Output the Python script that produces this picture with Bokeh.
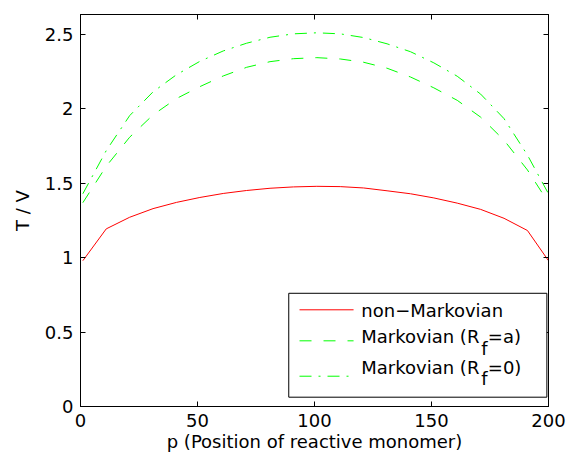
from bokeh.plotting import figure
from bokeh.models import (LinearAxis, FixedTicker, BoxAnnotation, Label, Arrow, Range1d)
from bokeh.embed import file_html
from bokeh.resources import INLINE

# ---- data ----
p_vals = [1, 11, 21, 31, 41, 51, 61, 71, 81, 91, 101, 111, 121, 131, 141, 151, 161, 171, 181, 191, 200]
non_markov = [0.98, 1.194, 1.272, 1.330, 1.372, 1.405, 1.432, 1.452, 1.467, 1.476, 1.480,
              1.478, 1.469, 1.450, 1.430, 1.402, 1.367, 1.325, 1.265, 1.183, 0.98]
markov_a = [1.37, 1.615, 1.81, 1.96, 2.07, 2.15, 2.222, 2.28, 2.318, 2.338, 2.345,
            2.336, 2.314, 2.274, 2.215, 2.142, 2.058, 1.945, 1.79, 1.59, 1.37]
markov_0 = [1.43, 1.72, 1.955, 2.115, 2.23, 2.32, 2.39, 2.442, 2.482, 2.505, 2.512,
            2.505, 2.480, 2.438, 2.385, 2.31, 2.22, 2.10, 1.935, 1.69, 1.43]

x_ticks = [0, 50, 100, 150, 200]
y_ticks = [0, 0.5, 1, 1.5, 2, 2.5]
y_tick_labels = ["0", "0.5", "1", "1.5", "2", "2.5"]

legend_labels = ["non\u2212Markovian", "Markovian (R", "Markovian (R"]
legend_subs = ["", "f", "f"]
legend_tails = ["", "=a)", "=0)"]

FONT = "DejaVu Sans"
FS = "18px"

p = figure(width=570, height=461, x_range=Range1d(0, 200), y_range=Range1d(0, 2.635),
           output_backend="svg", toolbar_location=None,
           min_border_left=80, min_border_right=22, min_border_top=14, min_border_bottom=55,
           x_axis_label="p (Position of reactive monomer)", y_axis_label="T / V")
p.xgrid.visible = False
p.ygrid.visible = False
p.outline_line_color = "black"
p.outline_line_width = 1
p.background_fill_color = "white"
p.border_fill_color = "white"

bottom_ax = p.below[0]
left_ax = p.left[0]

# extra axes for MATLAB-style box ticks
top_ax = LinearAxis()
right_ax = LinearAxis()
p.add_layout(top_ax, "above")
p.add_layout(right_ax, "right")

for ax in [bottom_ax, top_ax]:
    ax.ticker = FixedTicker(ticks=x_ticks)
for ax in [left_ax, right_ax]:
    ax.ticker = FixedTicker(ticks=y_ticks)
left_ax.major_label_overrides = {t: s for t, s in zip(y_ticks, y_tick_labels)}

for ax in [bottom_ax, left_ax, top_ax, right_ax]:
    ax.major_tick_in = 5
    ax.major_tick_out = 0
    ax.minor_tick_in = 0
    ax.minor_tick_out = 0
    ax.axis_line_color = "black"
    ax.major_tick_line_color = "black"
    ax.major_label_text_font = FONT
    ax.major_label_text_font_size = FS
    ax.major_label_text_font_style = "normal"
    ax.major_label_text_color = "black"
    ax.axis_label_text_font = FONT
    ax.axis_label_text_font_size = FS
    ax.axis_label_text_font_style = "normal"
    ax.axis_label_text_color = "black"

top_ax.major_label_overrides = {t: "" for t in x_ticks}
right_ax.major_label_overrides = {t: "" for t in y_ticks}
for ax in [top_ax, right_ax]:
    ax.major_label_text_font_size = "1px"
    ax.major_label_standoff = 0

bottom_ax.major_label_standoff = 7
bottom_ax.axis_label_standoff = 1
left_ax.major_label_standoff = 7
left_ax.axis_label_standoff = 9

p.line(p_vals, non_markov, line_color="#ff0000", line_width=1)
p.line(p_vals, markov_a, line_color="#00ff00", line_width=1, line_dash="12 12")
p.line(p_vals, markov_0, line_color="#00ff00", line_width=1, line_dash="12 7 2 7")

# ---- legend (box, samples, texts) ----
p.add_layout(BoxAnnotation(left=89.0, right=199.3, bottom=0.0625, top=0.761,
                           fill_color="white", fill_alpha=1.0,
                           line_color="black", line_width=1, line_alpha=1.0))
styles = [("#ff0000", "solid"), ("#00ff00", "12 12"), ("#00ff00", "12 7 2 7")]
sample_y = [0.650, 0.4415, 0.2036]
base_y = [0.647, 0.4704, 0.2625]
sub_y = [0.0, 0.392, 0.1866]
for i in range(3):
    col, dash = styles[i]
    p.add_layout(Arrow(end=None, x_start=93.6, x_end=116.7, y_start=sample_y[i], y_end=sample_y[i],
                       line_color=col, line_width=1, line_dash=dash))
    p.add_layout(Label(x=120, y=base_y[i], text=legend_labels[i], text_font=FONT,
                       text_font_size=FS, text_color="black", text_baseline="alphabetic"))
    if legend_subs[i]:
        p.add_layout(Label(x=120, y=sub_y[i], x_offset=120, text=legend_subs[i], text_font=FONT,
                           text_font_size=FS, text_color="black", text_baseline="alphabetic"))
        p.add_layout(Label(x=120, y=base_y[i], x_offset=126.5, text=legend_tails[i], text_font=FONT,
                           text_font_size=FS, text_color="black", text_baseline="alphabetic"))

open("out.html", "w").write(file_html(p, INLINE))
